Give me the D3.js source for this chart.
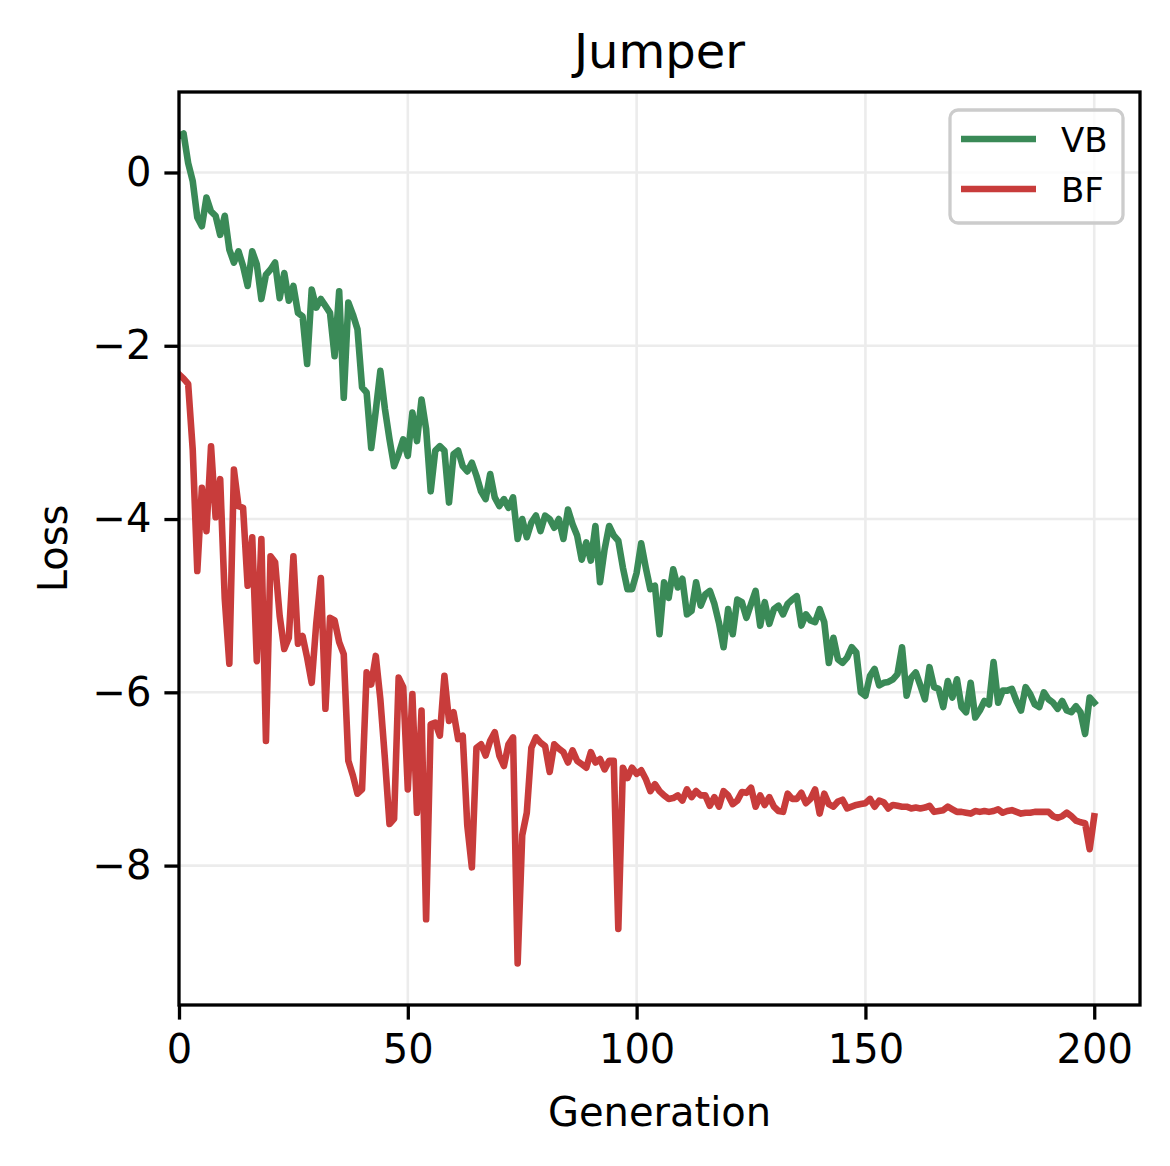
<!DOCTYPE html>
<html>
<head>
<meta charset="utf-8">
<script src="https://cdn.jsdelivr.net/npm/d3@7"></script>
<style>
  body { margin: 0; background: #fff; }
  svg text { font-family: "DejaVu Sans", sans-serif; fill: #000; }
</style>
</head>
<body>
<svg id="canvas" width="1170" height="1166"></svg>
<script>
// loss per generation (generation 0..200)
const vbLoss = [
  0.42, 0.45, 0.11, -0.10, -0.52, -0.62, -0.29, -0.45, -0.50, -0.72,
  -0.50, -0.89, -1.04, -0.91, -1.08, -1.31, -0.91, -1.06, -1.46, -1.18,
  -1.12, -1.04, -1.45, -1.16, -1.48, -1.31, -1.62, -1.66, -2.21, -1.35,
  -1.56, -1.46, -1.54, -1.62, -2.12, -1.37, -2.60, -1.50, -1.64, -1.81,
  -2.48, -2.54, -3.18, -2.75, -2.29, -2.73, -3.08, -3.39, -3.25, -3.08,
  -3.27, -2.77, -3.10, -2.62, -2.96, -3.68, -3.21, -3.16, -3.21, -3.81,
  -3.25, -3.21, -3.39, -3.45, -3.35, -3.50, -3.68, -3.77, -3.48, -3.75,
  -3.85, -3.77, -3.87, -3.75, -4.23, -4.00, -4.21, -4.04, -3.96, -4.14,
  -3.96, -4.00, -4.10, -4.00, -4.23, -3.89, -4.06, -4.19, -4.47, -4.27,
  -4.48, -4.08, -4.73, -4.35, -4.08, -4.19, -4.25, -4.56, -4.81, -4.81,
  -4.62, -4.28, -4.56, -4.81, -4.77, -5.33, -4.73, -4.91, -4.58, -4.79,
  -4.69, -5.10, -5.06, -4.73, -5.00, -4.87, -4.83, -4.98, -5.20, -5.48,
  -5.04, -5.33, -4.93, -4.96, -5.14, -4.98, -4.83, -5.23, -4.96, -5.21,
  -5.04, -5.00, -5.10, -4.98, -4.93, -4.89, -5.23, -5.10, -5.17, -5.19,
  -5.04, -5.19, -5.66, -5.37, -5.62, -5.66, -5.60, -5.48, -5.54, -6.00,
  -6.04, -5.81, -5.73, -5.92, -5.89, -5.88, -5.85, -5.79, -5.48, -6.04,
  -5.83, -5.77, -5.92, -6.08, -5.71, -5.94, -5.96, -6.17, -5.87, -6.06,
  -5.85, -6.17, -6.23, -5.89, -6.29, -6.21, -6.10, -6.14, -5.65, -6.12,
  -5.98, -5.98, -5.96, -6.10, -6.21, -5.94, -6.02, -6.14, -6.17, -6.00,
  -6.08, -6.12, -6.19, -6.10, -6.21, -6.23, -6.16, -6.23, -6.48, -6.06,
  -6.12
]

const bfLoss = [
  -2.33, -2.38, -2.44, -3.20, -4.60, -3.64, -4.14, -3.16, -3.98, -3.54,
  -4.92, -5.67, -3.43, -3.85, -3.87, -4.77, -4.21, -5.64, -4.23, -6.56,
  -4.43, -4.50, -5.12, -5.50, -5.37, -4.43, -5.44, -5.35, -5.60, -5.89,
  -5.20, -4.68, -6.19, -5.14, -5.17, -5.42, -5.56, -6.79, -6.96, -7.17,
  -7.12, -5.77, -5.91, -5.58, -6.08, -6.77, -7.52, -7.46, -5.83, -5.94,
  -7.12, -6.02, -7.39, -6.21, -8.62, -6.37, -6.35, -6.50, -5.81, -6.33,
  -6.23, -6.54, -6.50, -7.54, -8.02, -6.64, -6.60, -6.73, -6.56, -6.46,
  -6.73, -6.85, -6.60, -6.52, -9.13, -7.65, -7.39, -6.64, -6.52, -6.58,
  -6.62, -6.92, -6.60, -6.65, -6.69, -6.81, -6.67, -6.79, -6.83, -6.87,
  -6.69, -6.81, -6.77, -6.89, -6.79, -6.79, -8.73, -6.87, -6.99, -6.87,
  -6.94, -6.90, -7.00, -7.14, -7.06, -7.14, -7.19, -7.23, -7.22, -7.19,
  -7.25, -7.12, -7.21, -7.14, -7.19, -7.19, -7.31, -7.21, -7.32, -7.14,
  -7.19, -7.29, -7.25, -7.15, -7.16, -7.10, -7.32, -7.19, -7.30, -7.21,
  -7.32, -7.37, -7.38, -7.17, -7.23, -7.23, -7.16, -7.28, -7.23, -7.12,
  -7.40, -7.17, -7.29, -7.32, -7.26, -7.24, -7.34, -7.32, -7.30, -7.29,
  -7.28, -7.23, -7.32, -7.25, -7.27, -7.34, -7.30, -7.31, -7.32, -7.32,
  -7.34, -7.33, -7.34, -7.33, -7.31, -7.38, -7.37, -7.36, -7.32, -7.35,
  -7.38, -7.38, -7.39, -7.40, -7.37, -7.38, -7.37, -7.38, -7.37, -7.35,
  -7.39, -7.37, -7.36, -7.38, -7.40, -7.39, -7.39, -7.38, -7.38, -7.38,
  -7.38, -7.43, -7.45, -7.43, -7.39, -7.43, -7.48, -7.50, -7.51, -7.81,
  -7.43
]

const seriesNames = ["VB", "BF"]
const seriesColors = ["#3a8a57", "#c83c3b"]
const xTicks = [0, 50, 100, 150, 200]
const yTicks = [0, -2, -4, -6, -8]

const plotLeft = 179, plotRight = 1140, plotTop = 92, plotBottom = 1005
const canvas = d3.select("#canvas")

const generations = vbLoss.map((d, i) => i)
const allLoss = vbLoss.concat(bfLoss)
const lo = d3.min(allLoss), hi = d3.max(allLoss)
const pad = (hi - lo) * 0.05

const xScale = d3.scaleLinear().domain([0, 210]).range([plotLeft, plotRight])
const yScale = d3.scaleLinear().domain([lo - pad, hi + pad]).range([plotBottom, plotTop])

// grid
const grid = canvas.append("g").attr("stroke", "#ececec").attr("stroke-width", 2.6)
grid.selectAll(".gx").data(xTicks).enter().append("line")
    .attr("x1", d => xScale(d)).attr("x2", d => xScale(d))
    .attr("y1", plotTop).attr("y2", plotBottom)
grid.selectAll(".gy").data(yTicks).enter().append("line")
    .attr("x1", plotLeft).attr("x2", plotRight)
    .attr("y1", d => yScale(d)).attr("y2", d => yScale(d))

canvas.append("clipPath").attr("id", "plotclip")
      .append("rect").attr("x", plotLeft).attr("y", plotTop)
      .attr("width", plotRight - plotLeft).attr("height", plotBottom - plotTop)

const line = d3.line()
    .x((d, i) => xScale(generations[i]))
    .y(d => yScale(d))

canvas.selectAll(".series")
      .data([vbLoss, bfLoss])
      .enter()
      .append("path")
      .attr("clip-path", "url(#plotclip)")
      .attr("d", d => line(d))
      .attr("fill", "none")
      .attr("stroke", (d, i) => seriesColors[i])
      .attr("stroke-width", 6.6)
      .attr("stroke-linejoin", "round")
      .attr("stroke-linecap", "square")

// axes
const fmt = d => d < 0 ? "\u2212" + Math.abs(d) : String(d)
const xAxis = d3.axisBottom(xScale).tickValues(xTicks).tickFormat(fmt)
                .tickSizeInner(14.6).tickSizeOuter(0).tickPadding(12)
const yAxis = d3.axisLeft(yScale).tickValues(yTicks).tickFormat(fmt)
                .tickSizeInner(14.6).tickSizeOuter(0).tickPadding(13)

const gx = canvas.append("g").attr("transform", `translate(0,${plotBottom})`).call(xAxis)
const gy = canvas.append("g").attr("transform", `translate(${plotLeft},0)`).call(yAxis)
;[gx, gy].forEach(g => {
  g.select(".domain").remove()
  g.selectAll("line").attr("stroke", "#000").attr("stroke-width", 3.3)
  g.selectAll("text").style("font-size", "40px").attr("fill", "#000")
})
gx.selectAll("text").attr("dy", "0.78em")

canvas.append("rect")
      .attr("x", plotLeft).attr("y", plotTop)
      .attr("width", plotRight - plotLeft).attr("height", plotBottom - plotTop)
      .attr("fill", "none").attr("stroke", "#000").attr("stroke-width", 3.3)

// labels
canvas.append("text").attr("x", (plotLeft + plotRight) / 2).attr("y", 68)
      .attr("text-anchor", "middle").style("font-size", "48px").text("Jumper")
canvas.append("text").attr("x", (plotLeft + plotRight) / 2).attr("y", 1126)
      .attr("text-anchor", "middle").style("font-size", "40px").text("Generation")
canvas.append("text")
      .attr("transform", `translate(67,${(plotTop + plotBottom) / 2}) rotate(-90)`)
      .attr("text-anchor", "middle").style("font-size", "40px").text("Loss")

// legend
const legend = canvas.append("g")
legend.append("rect")
      .attr("x", 950).attr("y", 110).attr("width", 173).attr("height", 113)
      .attr("rx", 8).attr("fill", "#fff").attr("fill-opacity", 0.8)
      .attr("stroke", "#cccccc").attr("stroke-width", 3.3)
seriesNames.forEach((name, i) => {
  const y = 139 + i * 50
  legend.append("line").attr("x1", 961).attr("x2", 1036)
        .attr("y1", y).attr("y2", y)
        .attr("stroke", seriesColors[i]).attr("stroke-width", 6.6)
  legend.append("text").attr("x", 1061).attr("y", y + 12.5)
        .style("font-size", "34px").text(name)
})
</script>
</body>
</html>
